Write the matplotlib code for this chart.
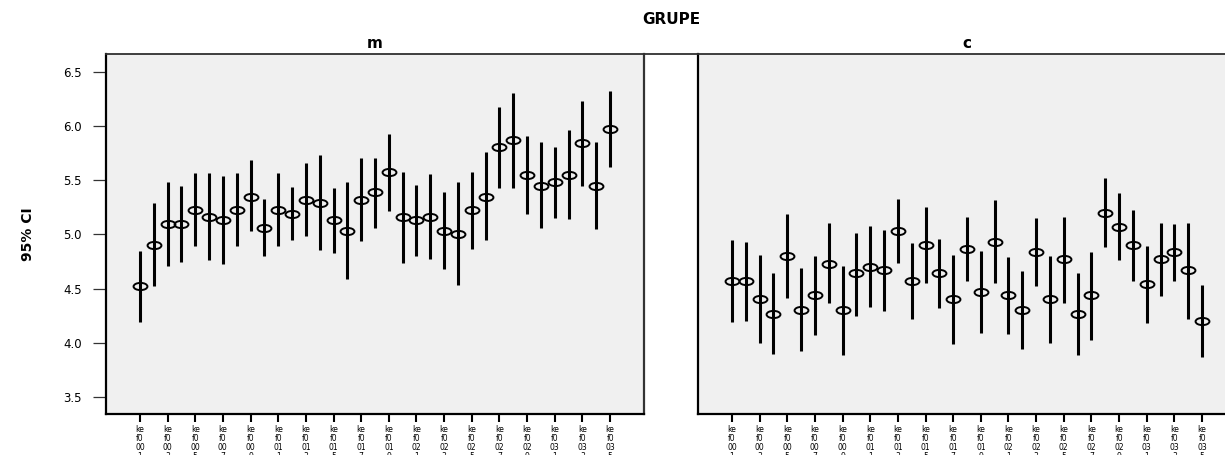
import numpy as np
import matplotlib

matplotlib.use("Agg")
import matplotlib.pyplot as plt
from matplotlib import font_manager
from matplotlib.path import Path
from matplotlib.transforms import Affine2D
from matplotlib.lines import Line2D

# categories kef0001 .. kef0035, one interval per category and group
categories = [f"kef{i:04d}" for i in range(1, 36)]

m_mean = [4.52, 4.90, 5.10, 5.10, 5.23, 5.16, 5.13, 5.23, 5.35, 5.06, 5.23, 5.19,
          5.32, 5.29, 5.13, 5.03, 5.32, 5.39, 5.58, 5.16, 5.13, 5.16, 5.03, 5.00,
          5.23, 5.35, 5.81, 5.87, 5.55, 5.45, 5.48, 5.55, 5.84, 5.45, 5.97]
m_high = [4.85, 5.29, 5.48, 5.45, 5.57, 5.57, 5.54, 5.57, 5.69, 5.33, 5.57, 5.44,
          5.66, 5.73, 5.43, 5.48, 5.71, 5.71, 5.93, 5.58, 5.46, 5.56, 5.39, 5.48,
          5.58, 5.76, 6.18, 6.31, 5.91, 5.85, 5.81, 5.96, 6.23, 5.85, 6.32]
m_low = [4.19, 4.52, 4.71, 4.75, 4.89, 4.76, 4.73, 4.89, 5.03, 4.80, 4.89, 4.95,
         4.99, 4.86, 4.83, 4.59, 4.94, 5.06, 5.22, 4.74, 4.80, 4.77, 4.68, 4.53,
         4.87, 4.95, 5.43, 5.43, 5.19, 5.06, 5.15, 5.14, 5.45, 5.05, 5.62]

c_mean = [4.57, 4.57, 4.40, 4.27, 4.80, 4.30, 4.44, 4.73, 4.30, 4.64, 4.70, 4.67,
          5.03, 4.57, 4.90, 4.64, 4.40, 4.87, 4.47, 4.93, 4.44, 4.30, 4.84, 4.40,
          4.77, 4.27, 4.44, 5.20, 5.07, 4.90, 4.54, 4.77, 4.84, 4.67, 4.20]
c_high = [4.95, 4.93, 4.81, 4.64, 5.19, 4.69, 4.80, 5.11, 4.71, 5.01, 5.08, 5.04,
          5.33, 4.92, 5.25, 4.96, 4.81, 5.16, 4.85, 5.32, 4.79, 4.66, 5.15, 4.80,
          5.16, 4.64, 4.84, 5.52, 5.38, 5.23, 4.89, 5.11, 5.10, 5.11, 4.53]
c_low = [4.19, 4.20, 4.00, 3.90, 4.41, 3.92, 4.07, 4.37, 3.89, 4.25, 4.33, 4.29,
         4.74, 4.22, 4.55, 4.32, 3.99, 4.57, 4.09, 4.55, 4.08, 3.94, 4.52, 4.00,
         4.37, 3.89, 4.03, 4.88, 4.76, 4.57, 4.18, 4.43, 4.57, 4.22, 3.87]

groups = ["m", "c"]
y_ticks = [3.5, 4.0, 4.5, 5.0, 5.5, 6.0, 6.5]

W, H = 1225, 455
installed = {f.name for f in font_manager.fontManager.ttflist}
narrow = "Liberation Sans Narrow" if "Liberation Sans Narrow" in installed else "DejaVu Sans"
plt.rcParams["font.family"] = ["DejaVu Sans"]


def wrap(label, n=2):
    return "\n".join(label[i:i + n] for i in range(0, len(label), n))


# flat open ellipse marker like the SPSS circle
ellipse = Path.unit_circle().transformed(Affine2D().scale(1.0, 0.52))

fig = plt.figure(figsize=(W / 100, H / 100), dpi=100)
px = lambda x0, y0, w, h: [x0 / W, 1 - (y0 + h) / H, w / W, h / H]
ax_m = fig.add_axes(px(106, 54, 538, 360))
ax_c = fig.add_axes(px(698, 54, 538, 360))

x = np.arange(len(categories))
for ax, mean, low, high in [(ax_m, m_mean, m_low, m_high), (ax_c, c_mean, c_low, c_high)]:
    ax.set_facecolor("#f0f0f0")
    ax.vlines(x, low, high, colors="black", lw=2.2)
    ax.plot(x, mean, ls="none", marker=ellipse, ms=10, mfc="none", mec="black", mew=1.4)
    ax.set_xlim(-2.45, len(categories) + 1.45)
    ax.set_ylim(3.343, 6.666)
    ax.set_xticks(x[::2])
    ax.set_xticklabels([wrap(c) for c in categories[::2]], fontsize=5.5, linespacing=1.0)
    ax.tick_params(axis="x", length=5.5, width=1.5, color="black", pad=2.2)
    for side in ["left", "bottom"]:
        ax.spines[side].set_linewidth(1.6)
        ax.spines[side].set_color("black")
    ax.spines["right"].set_linewidth(1.6)
    ax.spines["right"].set_color("#333333")
    ax.spines["top"].set_visible(False)

ax_m.set_yticks(y_ticks)
ax_m.set_yticklabels([f"{v:.1f}" for v in y_ticks], fontsize=8.5)
ax_m.tick_params(axis="y", length=9.5, width=0.9, color="#333333", pad=8)
ax_c.set_yticks([])

# continuous line over both panel tops
fig.add_artist(Line2D([106 / W, 1.0], [1 - 54 / H] * 2, color="#303030", lw=1.3))

fig.text(671 / W, 1 - 20 / H, "GRUPE", ha="center", va="center",
         fontsize=11, fontweight="bold")
fig.text(375 / W, 1 - 44 / H, groups[0], ha="center", va="center",
         fontsize=11, fontweight="bold")
fig.text(967 / W, 1 - 44 / H, groups[1], ha="center", va="center",
         fontsize=11, fontweight="bold")
fig.text(28 / W, 1 - 234 / H, "95% CI", rotation=90, ha="center", va="center",
         fontsize=13 if narrow != "DejaVu Sans" else 10, fontweight="bold",
         family=[narrow, "DejaVu Sans"])

fig.savefig("out.png", dpi=100)
